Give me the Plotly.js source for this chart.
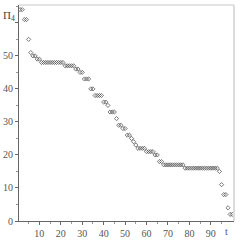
<!DOCTYPE html>
<html>
<head>
<meta charset="utf-8">
<script src="https://cdn.plot.ly/plotly-3.0.1.min.js"></script>
<style>html,body{margin:0;padding:0;background:#fff;}#chart{width:243px;height:245px;}</style>
</head>
<body>
<div id="chart"></div>
<script>
// time steps
var t = [];
for (var i = 1; i <= 100; i++) t.push(i);
// values
var n4 = [
  64, 64, 61, 61, 55, 51, 50, 50, 49, 49,
  48, 48, 48, 48, 48, 48, 48, 48, 48, 48,
  48, 47, 47, 47, 47, 47, 46, 46, 45, 45,
  43, 43, 43, 40, 40, 38, 38, 38, 38, 36,
  36, 35, 33, 33, 33, 31, 29, 29, 28, 28,
  26, 26, 25, 24, 23, 22, 22, 22, 22, 21,
  21, 21, 21, 20, 20, 18, 18, 17, 17, 17,
  17, 17, 17, 17, 17, 17, 17, 16, 16, 16,
  16, 16, 16, 16, 16, 16, 16, 16, 16, 16,
  16, 16, 16, 15, 11, 8, 8, 4, 2, 2
];
var xTicks = [10, 20, 30, 40, 50, 60, 70, 80, 90];
var xMinor = [5, 15, 25, 35, 45, 55, 65, 75, 85, 95];
var yTicks = [0, 10, 20, 30, 40, 50, 60];
var yTickText = ['0', '10', '20', '30', '40', '50', ''];
var yMinor = [5, 15, 25, 35, 45, 55, 65];

var fnt = {family: 'Liberation Serif, Times New Roman, serif', size: 10, color: '#555'};

Plotly.newPlot('chart', [{
  x: t, y: n4, type: 'scatter', mode: 'markers',
  marker: {symbol: 'diamond-open', size: 3.2, color: '#444', line: {width: 0.7, color: '#444'}},
  hoverinfo: 'none'
}], {
  width: 243, height: 245,
  margin: {l: 19, r: 9, t: 5, b: 24, pad: 0},
  paper_bgcolor: '#fff', plot_bgcolor: '#fff',
  showlegend: false,
  font: fnt,
  xaxis: {
    range: [0.5, 100.8], tickmode: 'array', tickvals: xTicks,
    showline: true, linecolor: '#666', linewidth: 1,
    ticks: 'outside', ticklen: 3, tickcolor: '#666', tickwidth: 1,
    minor: {tickmode: 'array', tickvals: xMinor, ticks: 'outside', ticklen: 2, tickcolor: '#999'},
    showgrid: false, zeroline: false, tickfont: fnt, fixedrange: true
  },
  yaxis: {
    range: [0, 65.4], tickmode: 'array', tickvals: yTicks, ticktext: yTickText,
    showline: true, linecolor: '#666', linewidth: 1,
    ticks: 'outside', ticklen: 3, tickcolor: '#666', tickwidth: 1,
    minor: {tickmode: 'array', tickvals: yMinor, ticks: 'outside', ticklen: 2, tickcolor: '#999'},
    showgrid: false, zeroline: false, tickfont: fnt, fixedrange: true
  },
  shapes: [
    {type: 'line', xref: 'paper', yref: 'paper', x0: 0, x1: 1, y0: 1, y1: 1, line: {color: '#c8c8c8', width: 1}},
    {type: 'line', xref: 'paper', yref: 'paper', x0: 1, x1: 1, y0: 0, y1: 1, line: {color: '#dcdcdc', width: 2}}
  ],
  annotations: [
    {text: 'Π<sub>4</sub>', xref: 'paper', yref: 'paper', x: -0.045, y: 0.95, xanchor: 'center', yanchor: 'middle',
     showarrow: false, font: {family: 'Liberation Serif, serif', size: 11, color: '#444'}},
    {text: 't', xref: 'x', yref: 'paper', x: 97.5, y: 0, yshift: -10, xanchor: 'center', yanchor: 'middle',
     showarrow: false, font: fnt}
  ]
}, {staticPlot: true});
</script>
</body>
</html>
